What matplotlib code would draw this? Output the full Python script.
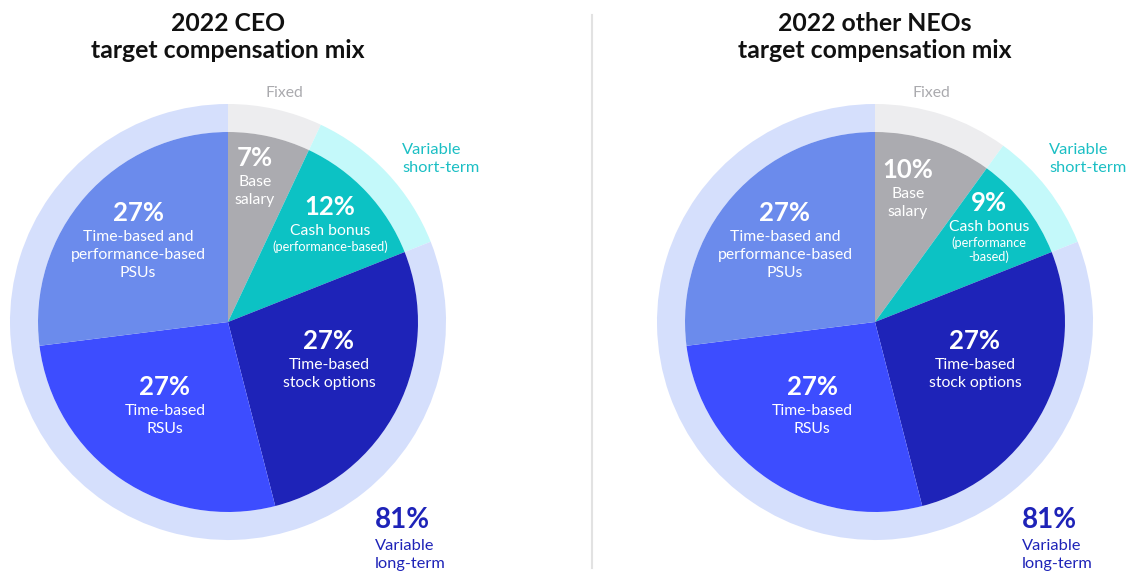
import matplotlib
matplotlib.use("Agg")
import matplotlib.pyplot as plt

plt.rcParams['font.family'] = ['Lato', 'DejaVu Sans']

W, H = 1130, 572

# inner slices, clockwise from 12 o'clock
slice_names = ['Base salary', 'Cash bonus', 'Time-based stock options', 'Time-based RSUs', 'PSUs']
ceo_values = [7, 12, 27, 27, 27]
neo_values = [10, 9, 27, 27, 27]
slice_colors = ['#ABABB0', '#0CC2C4', '#1E23B8', '#3D4DFF', '#6B8BEC']

# outer ring groups
group_names = ['Fixed', 'Variable short-term', 'Variable long-term']
ceo_groups = [7, 12, 81]
neo_groups = [10, 9, 81]
group_colors = ['#EDEDEF', '#C4F9FA', '#D5DFFC']

titles = ['2022 CEO\ntarget compensation mix', '2022 other NEOs\ntarget compensation mix']

fig = plt.figure(figsize=(W / 100, H / 100), dpi=100)
ax = fig.add_axes([0, 0, 1, 1])


def Y(y):
    return H - y


def draw_pie(cx, cy, values, groups):
    ax.pie(groups, colors=group_colors, radius=218, center=(cx, Y(cy)),
           startangle=90, counterclock=False,
           wedgeprops=dict(width=28, linewidth=0))
    ax.pie(values, colors=slice_colors, radius=190, center=(cx, Y(cy)),
           startangle=90, counterclock=False,
           wedgeprops=dict(linewidth=0))


def label(x, y, pct, lines, small=None, pct_size=18.5, size=11.3):
    ax.text(x, Y(y), pct, ha='center', va='center', color='white',
            fontsize=pct_size, fontweight='bold')
    for i, ln in enumerate(lines):
        ax.text(x, Y(y + 24 + 18 * i), ln, ha='center', va='center',
                color='white', fontsize=size)
    if small:
        for j, ln in enumerate(small):
            ax.text(x, Y(y + 24 + 18 * len(lines) - 2 + 14 * j), ln,
                    ha='center', va='center', color='white', fontsize=9.2)


def group_labels(dx, ti):
    ax.text(228 + dx, Y(37), titles[ti], ha='center', va='center',
            fontsize=17.8, fontweight='bold', color='#111111', linespacing=1.25)
    ax.text(284 + dx, Y(93), 'Fixed', ha='center', va='center',
            fontsize=11.3, color='#AAAAAE')
    ax.text(402 + dx, Y(159), 'Variable\nshort-term', ha='left', va='center',
            fontsize=11.8, color='#1BBFC4', linespacing=1.35)
    ax.text(375 + dx, Y(520), '81%', ha='left', va='center',
            fontsize=20, fontweight='bold', color='#1E23B8')
    ax.text(375 + dx, Y(555), 'Variable\nlong-term', ha='left', va='center',
            fontsize=11.8, color='#1E23B8', linespacing=1.35)


# CEO
draw_pie(228, 322, ceo_values, ceo_groups)
group_labels(0, 0)
label(255, 158, f'{ceo_values[0]}%', ['Base', 'salary'])
label(330, 207, f'{ceo_values[1]}%', ['Cash bonus'], small=['(performance-based)'])
label(329, 341, f'{ceo_values[2]}%', ['Time-based', 'stock options'])
label(165, 387, f'{ceo_values[3]}%', ['Time-based', 'RSUs'])
label(138, 213, f'{ceo_values[4]}%', ['Time-based and', 'performance-based', 'PSUs'])

# other NEOs
dx = 647
draw_pie(228 + dx, 322, neo_values, neo_groups)
group_labels(dx, 1)
label(908, 170, f'{neo_values[0]}%', ['Base', 'salary'])
label(989, 203, f'{neo_values[1]}%', ['Cash bonus'], small=['(performance', '-based)'])
label(975, 341, f'{neo_values[2]}%', ['Time-based', 'stock options'])
label(812, 387, f'{neo_values[3]}%', ['Time-based', 'RSUs'])
label(785, 213, f'{neo_values[4]}%', ['Time-based and', 'performance-based', 'PSUs'])

# divider
ax.plot([592, 592], [Y(15), Y(568)], color='#E2E2E2', lw=1.5)

ax.set_xlim(0, W)
ax.set_ylim(0, H)
ax.set_aspect('equal')
ax.axis('off')

fig.savefig('out.png', dpi=100)
